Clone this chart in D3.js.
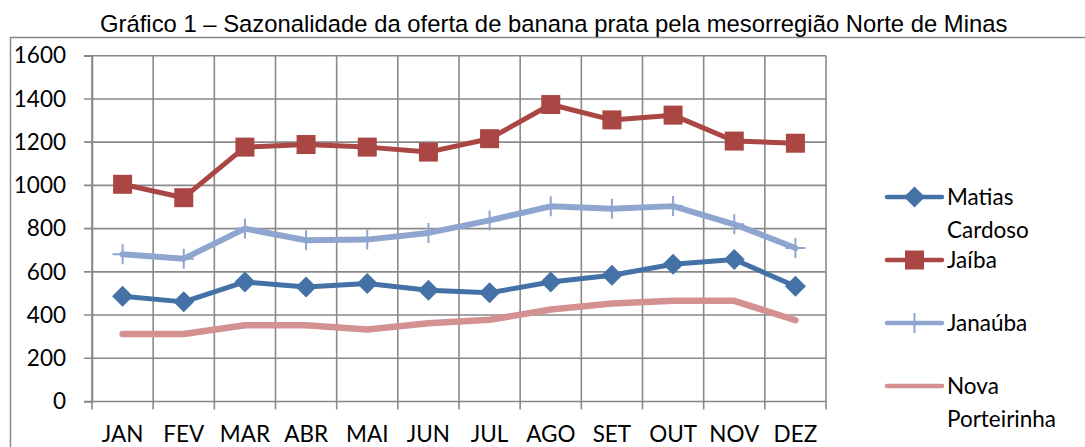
<!DOCTYPE html>
<html>
<head>
	<meta charset="utf-8">
	<script src="https://d3js.org/d3.v7.min.js"></script>
	<title>Gráfico 1</title>
	<style>
		body { margin: 0; background: #fff; }
		svg { display: block; }
	</style>
</head>
<body>
	<svg></svg>
	<script>
		const width = 1085;
		const height = 447;

		// dados
		const months = ["JAN", "FEV", "MAR", "ABR", "MAI", "JUN", "JUL", "AGO", "SET", "OUT", "NOV", "DEZ"];
		const yTicks = [0, 200, 400, 600, 800, 1000, 1200, 1400, 1600];
		const seriesNames = ["Matias Cardoso", "Jaíba", "Janaúba", "Nova Porteirinha"];
		const matias = [487, 461, 553, 530, 546, 515, 503, 553, 584, 635, 657, 533];
		const jaiba = [1005, 943, 1177, 1189, 1177, 1154, 1216, 1374, 1303, 1325, 1205, 1195];
		const janauba = [681, 661, 800, 746, 749, 780, 838, 903, 892, 904, 820, 710];
		const nova = [312, 312, 353, 353, 333, 362, 378, 426, 453, 466, 466, 376];

		const series = [
			{name: seriesNames[0], values: matias, color: "#4471a6", width: 5, marker: "diamond"},
			{name: seriesNames[1], values: jaiba, color: "#aa4643", width: 5, marker: "square"},
			{name: seriesNames[2], values: janauba, color: "#8ea6cf", width: 6, marker: "plus"},
			{name: seriesNames[3], values: nova, color: "#d39192", width: 6.5, marker: "none"}
		];

		const gridColor = "#898989";
		const font = "Lato, 'Open Sans', sans-serif";

		const svg = d3.select("svg")
			.attr("width", width)
			.attr("height", height);

		// moldura
		svg.append("rect")
			.attr("x", 10.5).attr("y", 37.5)
			.attr("width", 1200).attr("height", 600)
			.attr("fill", "none")
			.attr("stroke", gridColor)
			.attr("stroke-width", 1.5);

		// título
		const title = svg.append("text")
			.attr("x", 100).attr("y", 32)
			.attr("font-family", "'Liberation Sans', Arial, sans-serif")
			.attr("font-size", 24)
			.attr("fill", "#000")
			.text("Gráfico 1 – Sazonalidade da oferta de banana prata pela mesorregião Norte de Minas");
		const tw = title.node().getComputedTextLength();
		title.attr("font-size", 24 * 908 / tw);

		const x = d3.scaleBand()
			.domain(months)
			.range([92, 826]);

		const y = d3.scaleLinear()
			.domain([0, 1600])
			.range([401.5, 55.7]);

		// grade horizontal
		svg.append("g")
			.selectAll("line")
			.data(yTicks)
			.join("line")
			.attr("x1", 84).attr("x2", 826)
			.attr("y1", d => y(d)).attr("y2", d => y(d))
			.attr("stroke", gridColor)
			.attr("stroke-width", 1.6);

		// grade vertical
		const bounds = months.map(m => x(m)).concat([x.range()[1]]);
		svg.append("g")
			.selectAll("line")
			.data(bounds)
			.join("line")
			.attr("x1", d => d).attr("x2", d => d)
			.attr("y1", y(1600)).attr("y2", y(0) + 8)
			.attr("stroke", gridColor)
			.attr("stroke-width", 1.6);

		// eixo Y
		const yAxis = svg.append("g")
			.attr("transform", "translate(92,0)")
			.call(d3.axisLeft(y).tickValues(yTicks).tickFormat(d => String(d)).tickSize(8).tickPadding(18));
		yAxis.select(".domain").attr("stroke", gridColor).attr("stroke-width", 1.6);
		yAxis.selectAll(".tick line").remove();
		yAxis.selectAll(".tick text")
			.attr("font-family", font)
			.attr("font-size", 22.5)
			.attr("fill", "#000");

		// eixo X
		const xAxis = svg.append("g")
			.attr("transform", `translate(0,${y(0)})`)
			.call(d3.axisBottom(x).tickSize(0).tickPadding(25));
		xAxis.select(".domain").remove();
		xAxis.selectAll(".tick text")
			.attr("font-family", font)
			.attr("font-size", 22.5)
			.attr("fill", "#000");

		const cx = (d, i) => x(months[i]) + x.bandwidth() / 2;
		const line = d3.line()
			.x(cx)
			.y(d => y(d));

		function drawMarker(g, type, color) {
			if (type === "square") {
				g.append("rect")
					.attr("x", -9.5).attr("y", -9.5)
					.attr("width", 19).attr("height", 19)
					.attr("fill", color);
			} else if (type === "diamond") {
				g.append("path")
					.attr("d", "M0,-10.5L10.5,0L0,10.5L-10.5,0Z")
					.attr("fill", color);
			} else if (type === "plus") {
				g.append("path")
					.attr("d", "M0,-10V10M-10,0H10")
					.attr("stroke", color)
					.attr("stroke-width", 2);
			}
		}

		const plot = svg.append("g");
		series.slice().reverse().forEach(s => {
			plot.append("path")
				.datum(s.values)
				.attr("d", line)
				.attr("fill", "none")
				.attr("stroke", s.color)
				.attr("stroke-width", s.width)
				.attr("stroke-linejoin", "round")
				.attr("stroke-linecap", "round");
			plot.append("g")
				.selectAll("g")
				.data(s.values)
				.join("g")
				.attr("transform", (d, i) => `translate(${cx(d, i)},${y(d)})`)
				.each(function () { drawMarker(d3.select(this), s.marker, s.color); });
		});

		// legenda
		const legend = svg.append("g")
			.selectAll("g")
			.data(series)
			.join("g")
			.attr("transform", (d, i) => `translate(887,${197 + i * 63})`);

		legend.append("line")
			.attr("x1", 0).attr("x2", 55)
			.attr("stroke", d => d.color)
			.attr("stroke-width", 4.5)
			.attr("stroke-linecap", "round");

		legend.each(function (d) {
			const g = d3.select(this).append("g").attr("transform", "translate(27.5,0)");
			drawMarker(g, d.marker, d.color);
		});

		legend.append("text")
			.attr("x", 60)
			.attr("font-family", font)
			.attr("font-size", 22.5)
			.attr("fill", "#000")
			.selectAll("tspan")
			.data(d => d.name.split(" "))
			.join("tspan")
			.attr("x", 60)
			.attr("y", (d, i) => i * 33)
			.attr("dy", "0.35em")
			.text(d => d);
	</script>
</body>
</html>
